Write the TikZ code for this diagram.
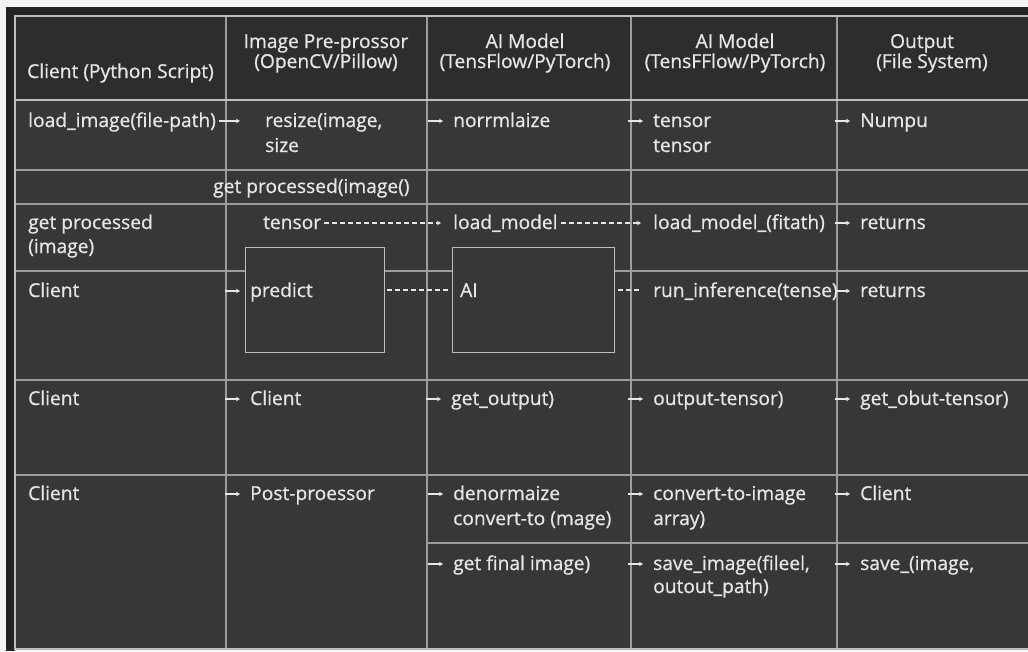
\documentclass[tikz,border=0pt]{standalone}
\usepackage{fontspec}
\setmainfont{Open Sans}[RawFeature={embolden=0.7}]
\usepackage{tikz}
\usetikzlibrary{positioning, arrows.meta, calc}

\definecolor{pagebg}{HTML}{F4F4F4}
\definecolor{framebg}{HTML}{232323}
\definecolor{headbg}{HTML}{2D2D2D}
\definecolor{cellbg}{HTML}{373737}
\definecolor{gridln}{HTML}{9C9C9C}
\definecolor{edgeln}{HTML}{BDBDBD}
\definecolor{txtc}{HTML}{E6E6E6}

\tikzset{
  txt/.style={anchor=base west, inner sep=0pt, text=txtc, font=\fontsize{19.2}{25}\selectfont},
  hdr/.style={anchor=base, inner sep=0pt, text=txtc, font=\fontsize{19.2}{20}\selectfont},
  gridline/.style={draw=gridln, line width=1.3pt},
  edgeline/.style={draw=edgeln, line width=2pt},
  sarrow/.style={draw=txtc, line width=1.2pt, -{Stealth[length=4pt, width=4.5pt]}},
  dashline/.style={draw=txtc, line width=1.1pt, dash pattern=on 5pt off 3pt},
  procbox/.style={draw=edgeln, line width=1.3pt, fill=cellbg, anchor=north west, inner sep=0pt}
}

\begin{document}
\begin{tikzpicture}[x=1pt, y=-1pt]
  \useasboundingbox (0,0) rectangle (1028,651);

  % Background and grid
  \fill[pagebg] (0,0) rectangle (1028,651);
  \fill[framebg] (6,7) rectangle (1028,651);
  \fill[headbg] (15,16) rectangle (1028,100);
  \fill[cellbg] (15,100) rectangle (1028,649);
  \fill[pagebg] (15,650) rectangle (1028,651);
  \foreach \y in {170,204,271,380,475}
  \draw[gridline] (15,\y) -- (1028,\y);
  \draw[gridline] (427,543) -- (1028,543);
  \foreach \x in {226,427,631,837}
  \draw[gridline] (\x,16) -- (\x,649);
  \draw[edgeline] (1028,16) -- (15,16) -- (15,649) -- (1028,649);
  \draw[edgeline] (15,100) -- (1028,100);

  % Header
  \node[txt] (hclient) at (27,78) {Client (Python Script)};
  \node[hdr] (hpre1) at (326,48) {Image Pre-prossor};
  \node[hdr] (hpre2) at (326,68) {(OpenCV/Pillow)};
  \node[hdr] (hai1) at (525,48) {AI Model};
  \node[hdr] (hai2) at (525,68) {(TensFlow/PyTorch)};
  \node[hdr] (hmod1) at (735,48) {AI Model};
  \node[hdr] (hmod2) at (735,68) {(TensFFlow/PyTorch)};
  \node[hdr] (hout1) at (922,48) {Output};
  \node[hdr] (hout2) at (932,68) {(File System)};

  % Boxes
  \node[procbox, minimum width=139pt, minimum height=105pt] (predbox) at (245,247) {};
  \node[procbox, minimum width=162pt, minimum height=105pt] (aibox) at (452,247) {};

  % Cells
  \node[txt] (load) at (28,127) {load\_image(file-path)};
  \node[txt] (resize) at (265,127) {resize(image,};
  \node[txt] (size) at ([yshift=-25pt]resize.base west) {size};
  \node[txt] (norm) at (453,127) {norrmlaize};
  \node[txt] (tens1) at (653,127) {tensor};
  \node[txt] (tens2) at ([yshift=-25pt]tens1.base west) {tensor};
  \node[txt] (nump) at (860,127) {Numpu};

  \node[txt] (getproc) at (213,193) {get processed(image()};

  \node[txt] (gp1) at (28,229) {get processed};
  \node[txt] (gp2) at ([yshift=-24pt]gp1.base west) {(image)};
  \node[txt] (tensor) at (263,229) {tensor};
  \node[txt] (lm) at (453,229) {load\_model};
  \node[txt] (lmf) at (653,229) {load\_model\_(fitath)};
  \node[txt] (ret1) at (860,229) {returns};

  \node[txt] (cl1) at (28,297) {Client};
  \node[txt] (pred) at (250,297) {predict};
  \node[txt] (ai) at (460,297) {AI};
  \node[txt] (runinf) at (653,297) {run\_inference(tense)};
  \node[txt] (ret2) at (860,297) {returns};

  \node[txt] (cl2) at (28,405) {Client};
  \node[txt] (cl3) at (250,405) {Client};
  \node[txt] (getout) at (451,405) {get\_output)};
  \node[txt] (outt) at (653,405) {output-tensor)};
  \node[txt] (getobut) at (860,405) {get\_obut-tensor)};

  \node[txt] (cl4) at (28,500) {Client};
  \node[txt] (post) at (250,500) {Post-proessor};
  \node[txt] (denorm) at (453,500) {denormaize};
  \node[txt] (conv) at ([yshift=-25pt]denorm.base west) {convert-to (mage)};
  \node[txt] (cti) at (653,500) {convert-to-image};
  \node[txt] (arr) at ([yshift=-25pt]cti.base west) {array)};
  \node[txt] (cl5) at (860,500) {Client};

  \node[txt] (final) at (453,570) {get final image)};
  \node[txt] (save) at (653,570) {save\_image(fileel,};
  \node[txt] (outp) at ([yshift=-23pt]save.base west) {outout\_path)};
  \node[txt] (save2) at (860,570) {save\_(image,};

  % Arrows
  \draw[sarrow] ([shift={(3pt,6pt)}]load.base east) -- ([shift={(-25pt,6pt)}]resize.base west);
  \foreach \n in {norm,tens1,nump,ret1,pred,ret2,cl3,getout,outt,getobut,post,denorm,cti,cl5,final,save,save2}
  \draw[sarrow] ([shift={(-25pt,6pt)}]\n.base west) -- ([shift={(-10pt,6pt)}]\n.base west);
  \draw[dashline, -{Stealth[length=4pt, width=4.5pt]}] ([shift={(3pt,6pt)}]tensor.base east) -- ([shift={(-12pt,6pt)}]lm.base west);
  \draw[dashline, -{Stealth[length=4pt, width=4.5pt]}] ([shift={(3pt,6pt)}]lm.base east) -- ([shift={(-12pt,6pt)}]lmf.base west);
  \draw[dashline] ([shift={(2pt,7pt)}]predbox.east |- pred.base) -- ([shift={(-4pt,7pt)}]aibox.west |- ai.base);
  \draw[dashline] ([shift={(3pt,7pt)}]aibox.east |- ai.base) -- ([shift={(-11pt,7pt)}]runinf.base west);
\end{tikzpicture}
\end{document}
